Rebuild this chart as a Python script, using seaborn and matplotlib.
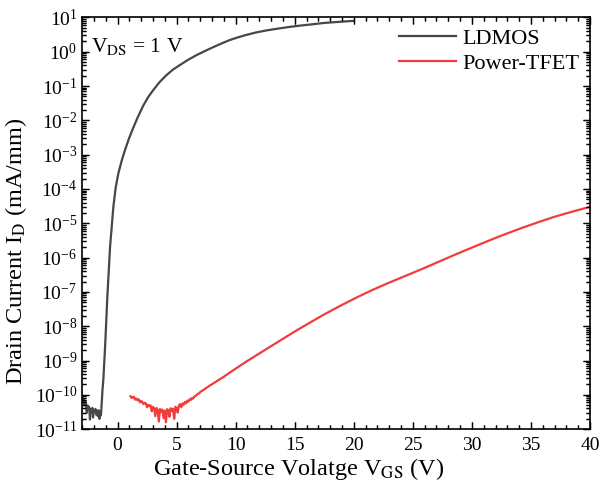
import numpy as np
import pandas as pd
import matplotlib
matplotlib.use("Agg")
import matplotlib.pyplot as plt
import matplotlib.ticker as mticker
from matplotlib.collections import LineCollection
import seaborn as sns

# ---------------- data ----------------
ldmos_vgs = [-3.0, -2.93, -2.87, -2.8, -2.73, -2.67, -2.6, -2.53, -2.47, -2.4,
             -2.33, -2.27, -2.2, -2.13, -2.07, -2.0, -1.93, -1.87, -1.8, -1.73,
             -1.67, -1.6, -1.53, -1.47, -1.42, -1.39,
             -1.33, -1.27, -1.20, -1.05, -0.86, -0.63, -0.35, -0.15, 0.07, 0.35,
             0.63, 0.95, 1.33, 1.7, 2.18, 2.6, 3.02, 3.55, 4.15, 4.7,
             5.27, 5.95, 6.68, 7.4, 8.08, 8.8, 9.49, 10.2, 10.9, 11.7,
             12.59, 13.5, 14.5, 15.4, 16.5, 17.5, 18.7, 20.0]
ldmos_log_id = [-10.05, -10.22, -10.12, -10.30, -10.18, -10.26, -10.52, -10.31, -10.40, -10.35,
                -10.72, -10.42, -10.50, -10.38, -10.66, -10.44, -10.48, -10.41, -10.58, -10.46,
                -10.62, -10.45, -10.70, -10.52, -10.60, -10.55,
                -10.20, -9.85, -9.57, -8.60, -7.14, -5.69, -4.52, -3.95, -3.55, -3.18,
                -2.87, -2.55, -2.22, -1.92, -1.57, -1.32, -1.12, -0.89, -0.68, -0.52,
                -0.39, -0.24, -0.10, 0.02, 0.13, 0.24, 0.34, 0.42, 0.49, 0.56,
                0.62, 0.67, 0.72, 0.76, 0.80, 0.84, 0.87, 0.90]

tfet_vgs = [1.1, 1.2, 1.3, 1.4, 1.5, 1.6, 1.7, 1.8, 1.9, 2.0,
            2.1, 2.2, 2.3, 2.4, 2.5, 2.6, 2.7, 2.8, 2.9, 3.0,
            3.1, 3.2, 3.3, 3.4, 3.5, 3.6, 3.7, 3.8, 3.9, 4.0,
            4.1, 4.2, 4.3, 4.4, 4.5, 4.6, 4.7, 4.8, 4.9, 5.0,
            5.1, 5.2, 5.3, 5.4, 5.5, 5.6, 5.7, 5.8, 5.9, 6.0,
            6.1, 6.2, 6.3, 6.4, 6.5, 6.6, 6.7, 6.8, 6.9, 7.0,
            7.3, 7.6, 7.81, 8.1, 8.5, 8.93, 9.6, 10.34, 11.0, 11.75,
            12.45, 13.15, 13.85, 14.56, 15.27, 15.97, 16.67, 17.37, 18.78, 20.2,
            21.6, 23.0, 24.4, 25.8, 27.2, 28.6, 30.0, 31.4, 32.8, 34.2,
            35.6, 37.0, 38.5, 40.0]
tfet_log_id = [-10.04, -10.09, -10.07, -10.06, -10.14, -10.11, -10.16, -10.13, -10.22, -10.18,
               -10.21, -10.27, -10.23, -10.25, -10.36, -10.29, -10.33, -10.31, -10.48, -10.35,
               -10.40, -10.62, -10.38, -10.44, -10.78, -10.41, -10.50, -10.43, -10.68, -10.46,
               -10.80, -10.42, -10.45, -10.64, -10.39, -10.47, -10.41, -10.70, -10.35, -10.38,
               -10.52, -10.31, -10.27, -10.36, -10.25, -10.29, -10.21, -10.25, -10.17, -10.20,
               -10.13, -10.15, -10.09, -10.11, -10.05, -10.03, -10.01, -9.97, -9.96, -9.92,
               -9.85, -9.78, -9.73, -9.67, -9.58, -9.49, -9.33, -9.16, -9.01, -8.85,
               -8.70, -8.55, -8.40, -8.25, -8.10, -7.96, -7.82, -7.68, -7.42, -7.17,
               -6.94, -6.73, -6.53, -6.33, -6.12, -5.91, -5.71, -5.51, -5.32, -5.14,
               -4.97, -4.81, -4.66, -4.52]

series_names = ["LDMOS", "Power-TFET"]
series_colors = ["#474747", "#f03c3c"]

x_ticks = [0, 5, 10, 15, 20, 25, 30, 35, 40]
y_decades = list(range(-11, 2))

# ---------------- figure ----------------
plt.rcdefaults()
plt.rcParams.update({
    "font.family": ["Liberation Serif", "DejaVu Serif"],
    "mathtext.fontset": "stix",
    "axes.linewidth": 1.2,
})

W, H, DPI = 5.99, 4.91, 100
fig = plt.figure(figsize=(W, H), dpi=DPI)
ax_rect = [0.137, 0.126, 0.848, 0.8385]
ax = fig.add_axes(ax_rect)

df = pd.concat([
    pd.DataFrame({"VGS": ldmos_vgs, "ID": 10.0 ** np.array(ldmos_log_id), "Device": series_names[0]}),
    pd.DataFrame({"VGS": tfet_vgs, "ID": 10.0 ** np.array(tfet_log_id), "Device": series_names[1]}),
], ignore_index=True)

sns.lineplot(data=df, x="VGS", y="ID", hue="Device", hue_order=series_names,
             palette=series_colors, estimator=None, sort=False, linewidth=1.6, ax=ax)

ax.set_yscale("log")
ax.set_xlim(-3, 40)
ax.set_ylim(1e-11, 1e1)
ax.set_xticks(x_ticks)
ax.xaxis.set_minor_locator(mticker.MultipleLocator(1))
ax.yaxis.set_major_locator(mticker.FixedLocator([10.0 ** d for d in y_decades]))
ax.yaxis.set_minor_locator(mticker.LogLocator(base=10, subs=np.arange(2, 10), numticks=20))
ax.yaxis.set_minor_formatter(mticker.NullFormatter())
ax.tick_params(which="both", direction="in", top=True, right=True, labelsize=14,
               color="black", labelcolor="black")
ax.tick_params(which="major", length=5.0, width=0.9)
ax.tick_params(which="minor", length=2.9, width=0.9)
ax.tick_params(axis="x", which="major", pad=6)

# inward tick marks also drawn as plain line segments at the tick locations
ax_w_px = ax_rect[2] * W * DPI
ax_h_px = ax_rect[3] * H * DPI
maj_px, min_px = 7.0, 4.0
x0, x1 = ax.get_xlim()
y0, y1 = ax.get_ylim()
xmaj = [v for v in ax.get_xticks() if x0 <= v <= x1]
xmin_ = [v for v in ax.xaxis.get_minorticklocs() if x0 <= v <= x1 and v not in xmaj]
ymaj = [v for v in ax.get_yticks() if y0 <= v <= y1]
ymin_ = [v for v in ax.yaxis.get_minorticklocs() if y0 <= v <= y1]
segs_x = []
for v, L in [(v, maj_px) for v in xmaj] + [(v, min_px) for v in xmin_]:
    f = L / ax_h_px
    segs_x.append([(v, 0), (v, f)])
    segs_x.append([(v, 1), (v, 1 - f)])
segs_y = []
for v, L in [(v, maj_px) for v in ymaj] + [(v, min_px) for v in ymin_]:
    f = L / ax_w_px
    segs_y.append([(0, v), (f, v)])
    segs_y.append([(1, v), (1 - f, v)])
ax.add_collection(LineCollection(segs_x, colors="black", linewidths=0.9,
                                 transform=ax.get_xaxis_transform(), clip_on=False, zorder=3))
ax.add_collection(LineCollection(segs_y, colors="black", linewidths=0.9,
                                 transform=ax.get_yaxis_transform(), clip_on=False, zorder=3))
ax.set_xlim(x0, x1)
ax.set_ylim(y0, y1)

ax.set_xlabel(r"Gate-Source Volatge V$_{\rm GS}$ (V)", fontsize=17.5)
ax.set_ylabel(r"Drain Current I$_{\rm D}$ (mA/mm)", fontsize=17.5)
ax.xaxis.set_label_coords(0.426, -0.066)
ax.yaxis.set_label_coords(-0.105, 0.432)

ax.text(0.018, 0.955, r"V$_{\rm DS}$ = 1 V", transform=ax.transAxes, fontsize=15.5,
        ha="left", va="top")

leg = ax.legend(loc="upper right", frameon=False, fontsize=16, handlelength=2.6,
                handletextpad=0.25, borderaxespad=0.1, labelspacing=0.2, title=None)

fig.savefig("out.png", dpi=DPI)
